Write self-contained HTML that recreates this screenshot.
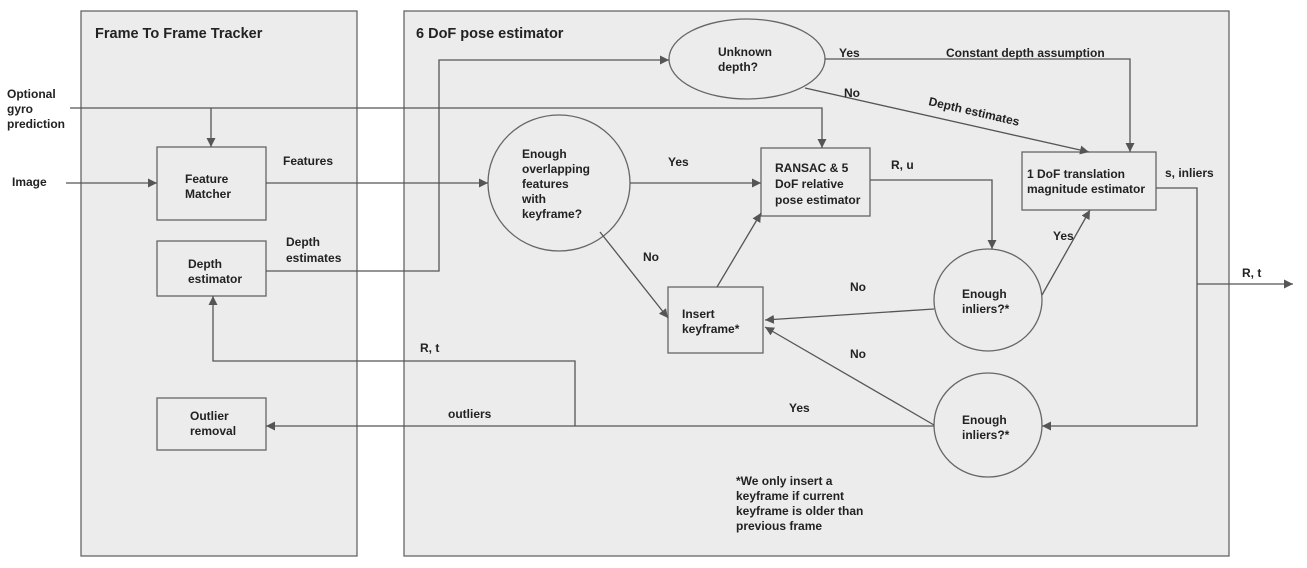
<!DOCTYPE html>
<html><head><meta charset="utf-8"><style>
body{margin:0;background:#fff}
svg{display:block}
text{font-family:"Liberation Sans",Arial,sans-serif;font-weight:bold;font-size:12px;fill:#222}
.t{font-size:14.5px}
</style></head><body>
<svg width="1307" height="568" viewBox="0 0 1307 568">
<defs><marker id="a" viewBox="0 0 10 10" refX="10" refY="5" markerWidth="9" markerHeight="9" orient="auto" markerUnits="userSpaceOnUse"><path d="M0,0L10,5L0,10z" fill="#555"/></marker></defs>
<g stroke="#666" stroke-width="1.3" fill="#ececec">
<rect x="81" y="11" width="276" height="545"/>
<rect x="404" y="11" width="825" height="545"/>
<rect x="157" y="147" width="109" height="73"/>
<rect x="157" y="241" width="109" height="55"/>
<rect x="157" y="398" width="109" height="52"/>
<rect x="761" y="148" width="109" height="68"/>
<rect x="1022" y="152" width="134" height="58"/>
<rect x="668" y="287" width="95" height="66"/>
<ellipse cx="559" cy="183" rx="71" ry="68"/>
<ellipse cx="747" cy="59" rx="78" ry="40"/>
<ellipse cx="988" cy="300" rx="54" ry="51"/>
<ellipse cx="988" cy="425" rx="54" ry="52"/>
</g>
<g stroke="#555" stroke-width="1.3" fill="none">
<path d="M70,108H822V148" marker-end="url(#a)"/>
<path d="M211,108V147" marker-end="url(#a)"/>
<path d="M66,183H157" marker-end="url(#a)"/>
<path d="M266,183H488" marker-end="url(#a)"/>
<path d="M266,271H439V60H669" marker-end="url(#a)"/>
<path d="M630,183H761" marker-end="url(#a)"/>
<path d="M825,59H1130V152" marker-end="url(#a)"/>
<path d="M805,88L1089,152" marker-end="url(#a)"/>
<path d="M870,180H992V249" marker-end="url(#a)"/>
<path d="M1042,295L1090,210" marker-end="url(#a)"/>
<path d="M1156,188H1197V426H1042" marker-end="url(#a)"/>
<path d="M1197,284H1293" marker-end="url(#a)"/>
<path d="M600,232L668,318" marker-end="url(#a)"/>
<path d="M717,287L761,213" marker-end="url(#a)"/>
<path d="M934,309L765,320" marker-end="url(#a)"/>
<path d="M934,425L765,327" marker-end="url(#a)"/>
<path d="M934,426H266" marker-end="url(#a)"/>
<path d="M575,426V361H213V296" marker-end="url(#a)"/>
</g>
<text class="t" x="95" y="38">Frame To Frame Tracker</text>
<text class="t" x="416" y="38">6 DoF pose estimator</text>
<text x="7" y="98">Optional</text><text x="7" y="113">gyro</text><text x="7" y="128">prediction</text>
<text x="12" y="186">Image</text>
<text x="283" y="165">Features</text>
<text x="185" y="183">Feature</text><text x="185" y="198">Matcher</text>
<text x="188" y="268">Depth</text><text x="188" y="283">estimator</text>
<text x="286" y="246">Depth</text><text x="286" y="262">estimates</text>
<text x="190" y="420">Outlier</text><text x="190" y="435">removal</text>
<text x="522" y="158">Enough</text><text x="522" y="173">overlapping</text><text x="522" y="188">features</text><text x="522" y="203">with</text><text x="522" y="218">keyframe?</text>
<text x="718" y="56">Unknown</text><text x="718" y="71">depth?</text>
<text x="839" y="57">Yes</text>
<text x="946" y="57">Constant depth assumption</text>
<text x="844" y="97">No</text>
<text x="928" y="105" transform="rotate(13 928 105)">Depth estimates</text>
<text x="668" y="166">Yes</text>
<text x="775" y="172">RANSAC &amp; 5</text><text x="775" y="188">DoF relative</text><text x="775" y="204">pose estimator</text>
<text x="891" y="169">R, u</text>
<text x="1027" y="178">1 DoF translation</text><text x="1027" y="193">magnitude estimator</text>
<text x="1165" y="177">s, inliers</text>
<text x="1053" y="240">Yes</text>
<text x="643" y="261">No</text>
<text x="850" y="291">No</text>
<text x="850" y="358">No</text>
<text x="682" y="318">Insert</text><text x="682" y="333">keyframe*</text>
<text x="962" y="298">Enough</text><text x="962" y="313">inliers?*</text>
<text x="962" y="424">Enough</text><text x="962" y="439">inliers?*</text>
<text x="1242" y="277">R, t</text>
<text x="420" y="352">R, t</text>
<text x="448" y="418">outliers</text>
<text x="789" y="412">Yes</text>
<text x="736" y="485">*We only insert a</text>
<text x="736" y="500">keyframe if current</text>
<text x="736" y="515">keyframe is older than</text>
<text x="736" y="530">previous frame</text>
</svg>
</body></html>
